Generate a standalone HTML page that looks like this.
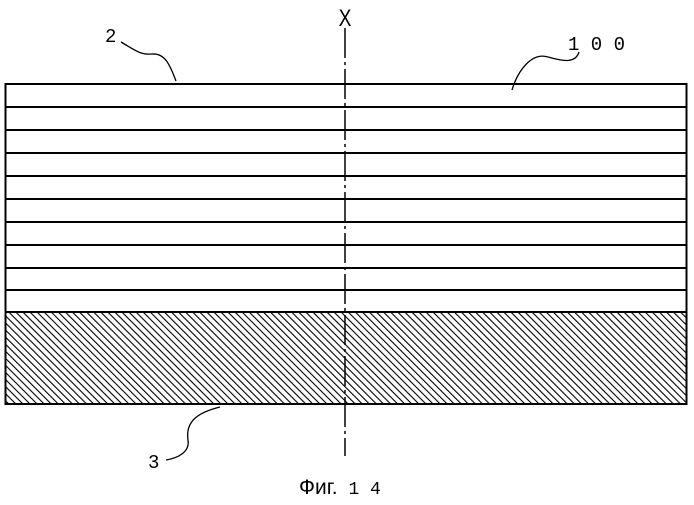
<!DOCTYPE html>
<html><head><meta charset="utf-8"><style>body{margin:0;background:#fff}</style></head>
<body>
<svg width="694" height="500" xmlns="http://www.w3.org/2000/svg">
<defs>
<pattern id="h" patternUnits="userSpaceOnUse" width="5" height="5" patternTransform="rotate(-45)">
<rect width="5" height="5" fill="#fff"/><line x1="0" y1="0" x2="0" y2="5" stroke="#000" stroke-width="2.2"/>
</pattern>
</defs>
<rect x="5.5" y="312" width="681" height="92" fill="url(#h)" stroke="#000" stroke-width="2"/>
<rect x="5.5" y="84" width="681" height="228" fill="none" stroke="#000" stroke-width="2"/>
<g stroke="#000" stroke-width="2">
<line x1="5" y1="107" x2="687" y2="107"/><line x1="5" y1="130" x2="687" y2="130"/>
<line x1="5" y1="153" x2="687" y2="153"/><line x1="5" y1="176" x2="687" y2="176"/>
<line x1="5" y1="199" x2="687" y2="199"/><line x1="5" y1="222" x2="687" y2="222"/>
<line x1="5" y1="245" x2="687" y2="245"/><line x1="5" y1="268" x2="687" y2="268"/>
<line x1="5" y1="290" x2="687" y2="290"/>
</g>
<line x1="345" y1="28" x2="345" y2="456" stroke="#000" stroke-width="1.5" stroke-dasharray="30,4,3,4"/>
<text x="345" y="26" font-family="Liberation Sans Narrow, Liberation Sans, sans-serif" font-size="24" text-anchor="middle" transform="translate(345 26) scale(0.8 1) translate(-345 -26)">X</text>
<g fill="none" stroke="#000" stroke-width="1.3">
<path d="M121 42 C135 50,140 55,152 54 C165 53,170 65,176 81"/>
<path d="M579 52 C575 65,560 60,548 57 C532 52,518 70,512 90"/>
<path d="M166 460 C178 458,190 452,188 440 C185 420,200 412,220 407"/>
</g>
<g font-family="Liberation Mono, monospace" font-size="19">
<text x="105" y="42">2</text>
<text x="568" y="50">1 0 0</text>
<text x="148" y="468">3</text>
</g>
<text x="299" y="494" font-family="Liberation Sans, sans-serif" font-size="21">Фиг.<tspan font-family="Liberation Mono, monospace" font-size="18"> 1 4</tspan></text>
</svg>
</body></html>
